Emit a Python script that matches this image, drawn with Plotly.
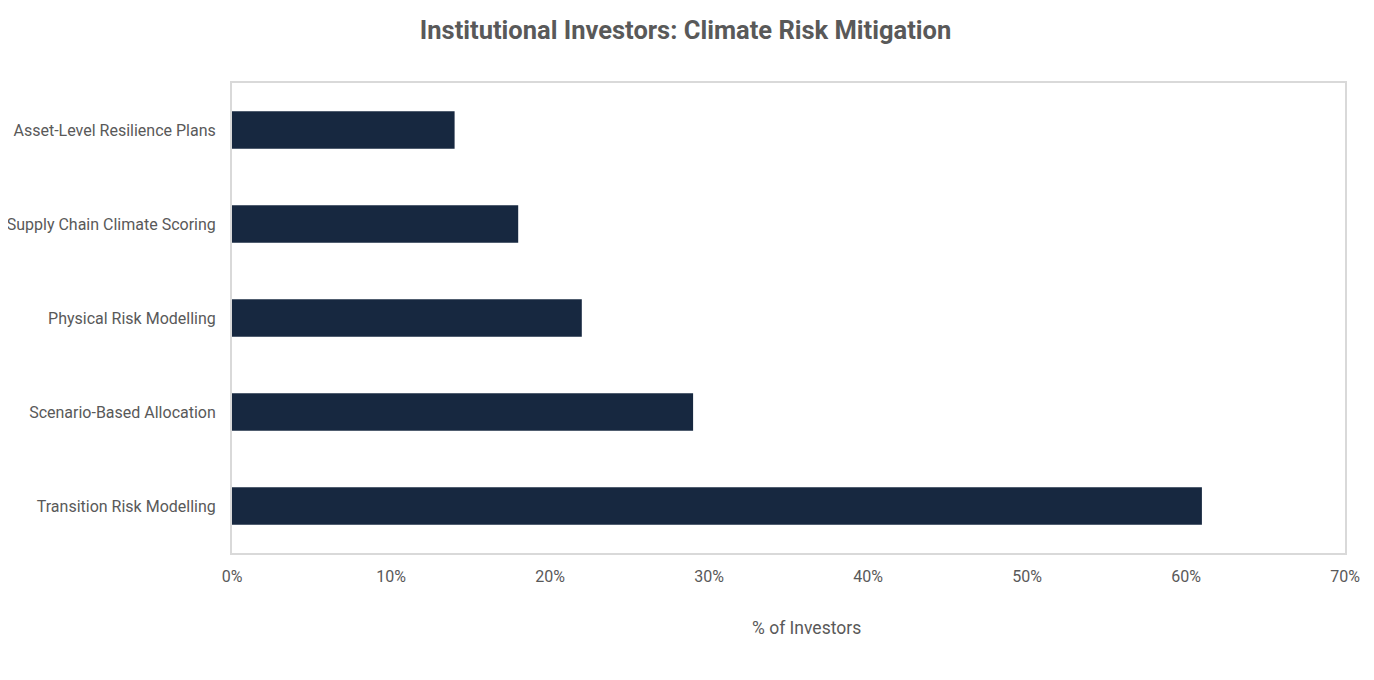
import plotly.graph_objects as go

categories = [
    "Transition Risk Modelling",
    "Scenario-Based Allocation",
    "Physical Risk Modelling",
    "Supply Chain Climate Scoring",
    "Asset-Level Resilience Plans",
]
share_pct = [61, 29, 22, 18, 14]
x_ticks = [0, 10, 20, 30, 40, 50, 60, 70]
x_tick_labels = [f"{t}%" for t in x_ticks]

FONT = "Roboto, sans-serif"
GREY = "#595959"

fig = go.Figure(go.Bar(
    x=share_pct,
    y=categories,
    orientation="h",
    marker_color="#172840",
    marker_line_width=0,
    hovertemplate="%{y}: %{x}%<extra></extra>",
))

fig.update_layout(
    width=1366, height=672,
    paper_bgcolor="white", plot_bgcolor="white",
    margin=dict(l=224, r=29, t=75, b=127),
    bargap=0.6,
    showlegend=False,
    font=dict(family=FONT, color=GREY, size=16),
    title=dict(
        text="<b>Institutional Investors: Climate Risk Mitigation</b>",
        x=0.496, xanchor="center", y=0.967, yanchor="middle",
        font=dict(family=FONT, size=25.5, color=GREY),
    ),
    xaxis=dict(
        range=[0, 70], tickvals=x_ticks, ticktext=x_tick_labels,
        showgrid=False, zeroline=False, automargin=False,
        showline=True, linecolor="#d9d9d9", linewidth=2, mirror=True,
        ticks="", ticklabelstandoff=8,
        tickfont=dict(size=16, color=GREY),
    ),
    yaxis=dict(
        showgrid=False, zeroline=False, automargin=False,
        showline=True, linecolor="#d9d9d9", linewidth=2, mirror=True,
        ticks="", ticklabelstandoff=11,
        tickfont=dict(size=16, color=GREY),
    ),
    annotations=[dict(
        text="% of Investors",
        xref="paper", yref="paper",
        x=0.516, y=-0.16, xanchor="center", yanchor="middle",
        showarrow=False,
        font=dict(size=17.5, color=GREY),
    )],
)

fig.write_html("out.html")
